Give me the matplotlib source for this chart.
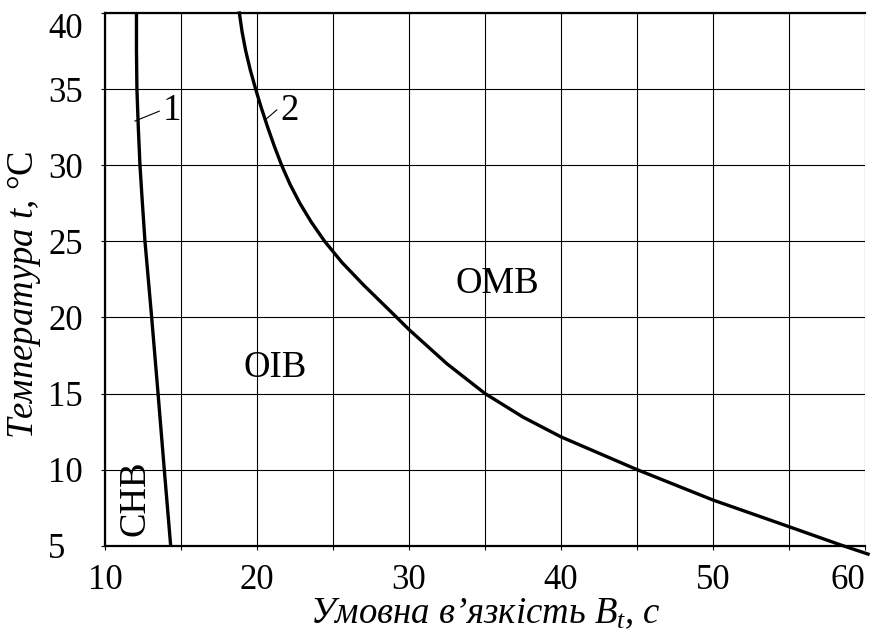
import matplotlib
matplotlib.use("Agg")
import matplotlib.pyplot as plt

plt.rcParams['font.family'] = ['Liberation Serif', 'DejaVu Serif']
plt.rcParams['mathtext.fontset'] = 'custom'
plt.rcParams['mathtext.rm'] = 'Liberation Serif'
plt.rcParams['mathtext.it'] = 'Liberation Serif:italic'

# Boundary 1 (СНВ / ОІВ): conditional viscosity vs temperature
visc_1 = [12.07, 12.07, 12.10, 12.19, 12.30, 12.46, 12.63, 12.85, 13.07,
          13.49, 13.90, 14.32]
temp_1 = [40, 37.5, 35, 32.5, 30, 27.5, 25, 22.5, 20, 15, 10, 5]

# Boundary 2 (ОІВ / ОМВ)
visc_2 = [18.84, 19.02, 19.26, 19.56, 19.91, 20.29, 20.70, 21.14, 21.62,
          22.17, 22.82, 23.58, 24.45, 25.60, 26.99, 29.19, 30.0, 32.5,
          35.0, 37.5, 40.0, 45.0, 50.0, 55.0, 58.4, 60.2]
temp_2 = [40, 38.75, 37.5, 36.25, 35, 33.75, 32.5, 31.25, 30,
          28.75, 27.5, 26.25, 25, 23.6, 22.15, 20, 19.2, 16.95,
          15, 13.45, 12.15, 10, 8.0, 6.25, 5.05, 4.45]

x_ticks = [10, 15, 20, 25, 30, 35, 40, 45, 50, 55, 60]
x_tick_labels = ["10", "", "20", "", "30", "", "40", "", "50", "", "60"]
y_ticks = [5, 10, 15, 20, 25, 30, 35, 40]
y_tick_labels = ["5", "10", "15", "20", "25", "30", "35", "40"]

region_labels = ["ОМВ", "ОІВ", "СНВ"]
region_pos = [(35.8, 22.2), (21.2, 16.7), (12.0, 8.1)]

FS = 25
FS_TEXT = 26.5

fig = plt.figure(figsize=(8.72, 6.30), dpi=100)
ax = fig.add_axes([105 / 872, 1 - 545.7 / 630, 760 / 872, 532.7 / 630])

ax.set_xlim(10, 60)
ax.set_ylim(5, 40)
ax.set_xticks(x_ticks)
ax.set_xticklabels(x_tick_labels)
ax.set_yticks(y_ticks)
ax.set_yticklabels(y_tick_labels)
ax.grid(True, color='black', linewidth=0.8)
ax.set_axisbelow(True)

for side in ('left', 'bottom', 'top'):
    ax.spines[side].set_linewidth(1.6)
ax.spines['right'].set_visible(False)

ax.tick_params(axis='both', direction='out', length=3, width=0.8,
               labelsize=FS, colors='black')
ax.tick_params(axis='x', pad=10)
ax.tick_params(axis='y', pad=38)
for lab in ax.get_yticklabels():
    lab.set_ha('left')
ylabs = ax.get_yticklabels()
ylabs[-1].set_va('top')
xlabs = ax.get_xticklabels()
xlabs[-1].set_ha('right')

ax.plot(visc_1, temp_1, color='black', linewidth=2.4,
        solid_joinstyle='round')
ax.plot(visc_2, temp_2, color='black', linewidth=2.4, clip_on=False,
        solid_joinstyle='round')

# curve numbers with leader lines
ax.plot([11.97, 13.57], [32.9, 33.55], color='black', linewidth=0.8)
ax.text(14.38, 33.6, "1", fontsize=FS_TEXT, ha='center', va='center')
ax.plot([20.53, 21.3], [32.97, 33.63], color='black', linewidth=0.8)
ax.text(22.17, 33.55, "2", fontsize=FS_TEXT, ha='center', va='center')

for name, (px, py) in zip(region_labels, region_pos):
    rot = 90 if name == "СНВ" else 0
    ax.text(px, py, name, fontsize=FS_TEXT, ha='center', va='center',
            rotation=rot)

ax.set_xlabel("Умовна в’язкість $B_t$, с", fontsize=FS_TEXT, style='italic',
              labelpad=0)
ax.set_ylabel("Температура $t$, $\\mathrm{°C}$", fontsize=FS_TEXT,
              style='italic')
ax.yaxis.set_label_coords(-0.082, 0.47)

fig.savefig("out.png", dpi=100)
